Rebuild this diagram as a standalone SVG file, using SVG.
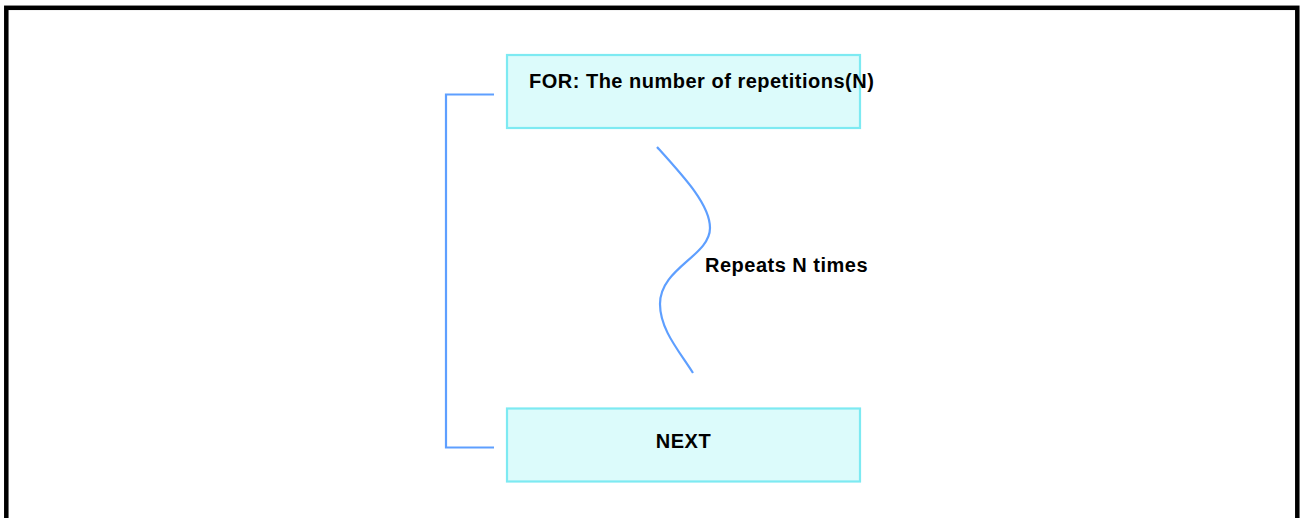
<svg xmlns="http://www.w3.org/2000/svg" width="1300" height="518" viewBox="0 0 1300 518">
<style>
.box{fill:#dcfbfb;stroke:#7deaf2;stroke-width:2.2}
.lbl{font-family:"Liberation Sans",Arial,sans-serif;font-weight:bold;font-size:20px;letter-spacing:0.5px;fill:#000}
.conn{fill:none;stroke:#5e9fff;stroke-width:2.2}
</style>
<rect x="6.3" y="7.8" width="1291" height="530" fill="#fff" stroke="#000" stroke-width="4.5"/>
<g id="connectors">
<path class="conn" d="M494,94.5 H446 V447.5 H494"/>
<path class="conn" d="M657,147 C685,178 710,205 710,228 C710,256 660,268 660,304 C660,330 680,352 693,373"/>
</g>
<g id="node-for">
<rect class="box" x="507" y="55" width="353" height="73"/>
<text class="lbl" x="529" y="88">FOR: The number of repetitions(N)</text>
</g>
<g id="node-next">
<rect class="box" x="507" y="408.5" width="353" height="73"/>
<text class="lbl" x="683.5" y="448" text-anchor="middle">NEXT</text>
</g>
<g id="label-repeats">
<text class="lbl" x="705" y="272">Repeats N times</text>
</g>
</svg>
